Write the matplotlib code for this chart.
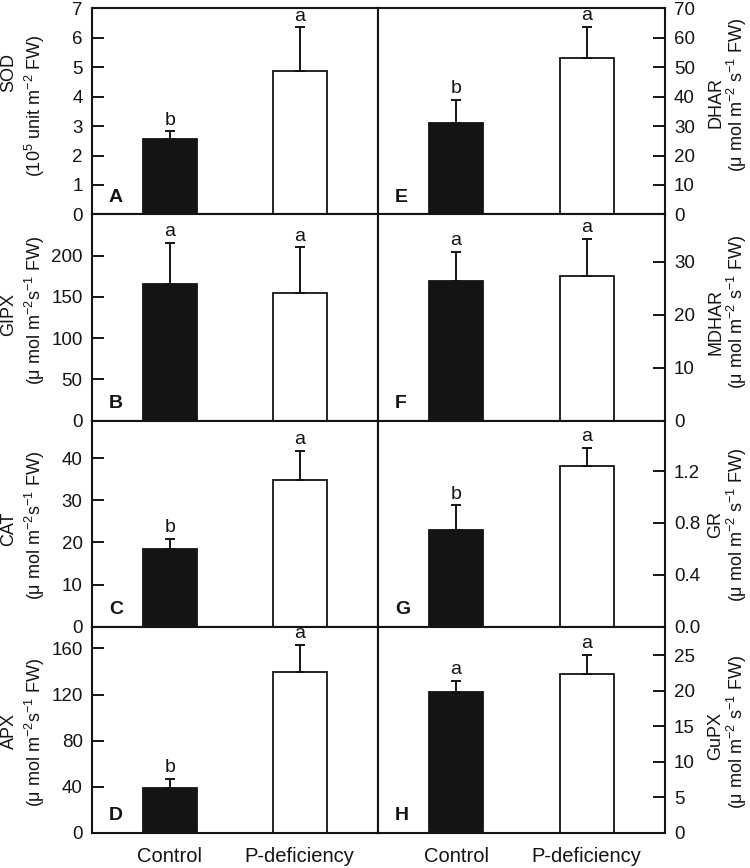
import matplotlib
matplotlib.use("Agg")
import matplotlib.pyplot as plt
from matplotlib.ticker import FormatStrFormatter

plt.rcParams['font.family'] = ['Liberation Sans', 'DejaVu Sans']
plt.rcParams['mathtext.fontset'] = 'custom'
plt.rcParams['mathtext.rm'] = 'Liberation Sans'
plt.rcParams['mathtext.it'] = 'Liberation Sans'

categories = ["Control", "P-deficiency"]

# panel order: A, B, C, D (left column), E, F, G, H (right column)
panel_ids = ["A", "B", "C", "D", "E", "F", "G", "H"]
names = ["SOD", "GIPX", "CAT", "APX", "DHAR", "MDHAR", "GR", "GuPX"]
units_std = r"($\mathregular{\mu}$ mol m$\mathregular{^{-2}}$s$\mathregular{^{-1}}$ FW)"
units_right = r"($\mathregular{\mu}$ mol m$\mathregular{^{-2}}$ s$\mathregular{^{-1}}$ FW)"
unit_labels = [r"(10$\mathregular{^5}$ unit m$\mathregular{^{-2}}$ FW)", units_std, units_std, units_std,
               units_right, units_right, units_right, units_right]

sod_mean = [2.56, 4.87];   sod_err = [0.26, 1.48];   sod_sig = ["b", "a"]
gipx_mean = [166, 155];    gipx_err = [49, 55];      gipx_sig = ["a", "a"]
cat_mean = [18.4, 34.8];   cat_err = [2.4, 7.0];     cat_sig = ["b", "a"]
apx_mean = [38.7, 139.4];  apx_err = [8.1, 23.5];    apx_sig = ["b", "a"]
dhar_mean = [31.0, 53.2];  dhar_err = [7.9, 10.5];   dhar_sig = ["b", "a"]
mdhar_mean = [26.4, 27.3]; mdhar_err = [5.5, 7.0];   mdhar_sig = ["a", "a"]
gr_mean = [0.745, 1.24];   gr_err = [0.19, 0.14];    gr_sig = ["b", "a"]
gupx_mean = [19.8, 22.3];  gupx_err = [1.6, 2.7];    gupx_sig = ["a", "a"]

means = [sod_mean, gipx_mean, cat_mean, apx_mean, dhar_mean, mdhar_mean, gr_mean, gupx_mean]
errs = [sod_err, gipx_err, cat_err, apx_err, dhar_err, mdhar_err, gr_err, gupx_err]
sigs = [sod_sig, gipx_sig, cat_sig, apx_sig, dhar_sig, mdhar_sig, gr_sig, gupx_sig]

ylims = [7, 250, 49, 179, 70, 39, 1.59, 29]
yticks = [list(range(0, 8)), [0, 50, 100, 150, 200], [0, 10, 20, 30, 40], [0, 40, 80, 120, 160],
          list(range(0, 71, 10)), [0, 10, 20, 30], [0.0, 0.4, 0.8, 1.2], [0, 5, 10, 15, 20, 25]]

# label vertical centres (pixels from top) for name line and unit line
name_y = [72, 315, 529, 731, 103, 322, 525, 736]
unit_y = [106, 310, 525, 732, 95, 312, 525, 732]

W, H = 750, 868
fig = plt.figure(figsize=(7.5, 8.68), dpi=100)

left_x0, mid_x, right_x1 = 91.7, 377.7, 665.0
top_y, bot_y = 8.3, 832.7
row_h = (bot_y - top_y) / 4

colors = ["#141414", "white"]
xpos = [0, 1]

for i in range(8):
    col = i // 4
    row = i % 4
    x0 = left_x0 if col == 0 else mid_x
    x1 = mid_x if col == 0 else right_x1
    y_top = top_y + row * row_h
    ax = fig.add_axes([x0 / W, 1 - (y_top + row_h) / H, (x1 - x0) / W, row_h / H])
    ax.bar(xpos, means[i], width=0.415, color=colors, edgecolor="#141414", linewidth=1.3, zorder=2)
    ax.errorbar(xpos, means[i], yerr=[[0, 0], errs[i]], fmt="none", ecolor="#141414",
                elinewidth=1.4, capsize=3.5, capthick=1.4, zorder=3)
    for xx, m, e, s in zip(xpos, means[i], errs[i], sigs[i]):
        ax.annotate(s, (xx, m + e), xytext=(0, 2), textcoords="offset points",
                    ha="center", va="bottom", fontsize=14, color="#141414")
    ax.set_xlim(-0.6, 1.6)
    ax.set_ylim(0, ylims[i])
    ax.set_yticks(yticks[i])
    if names[i] == "GR":
        ax.yaxis.set_major_formatter(FormatStrFormatter("%.1f"))
    for sp in ax.spines.values():
        sp.set_linewidth(1.5)
        sp.set_color("#141414")
    if col == 1:
        ax.yaxis.tick_right()
    ax.tick_params(axis="y", direction="in", length=8.5, width=1.4, pad=6.5,
                   labelsize=13.5, colors="#141414", labelcolor="#141414")
    ax.tick_params(axis="x", length=0, pad=10, labelsize=14.5, labelcolor="#141414")
    ax.set_xticks(xpos)
    if row == 3:
        ax.set_xticklabels(categories)
    else:
        ax.set_xticklabels([])
    ax.text(0.06, 0.06, panel_ids[i], transform=ax.transAxes, fontsize=14,
            fontweight="bold", ha="left", va="baseline", color="#141414")
    if col == 0:
        nx, ux = 9, 35
    else:
        nx, ux = 716, 737
    fig.text(nx / W, 1 - name_y[i] / H, names[i], rotation=90, ha="center", va="center",
             fontsize=13, color="#141414")
    fig.text(ux / W, 1 - unit_y[i] / H, unit_labels[i], rotation=90, ha="center", va="center",
             fontsize=13, color="#141414")

fig.savefig("out.png", dpi=100)
